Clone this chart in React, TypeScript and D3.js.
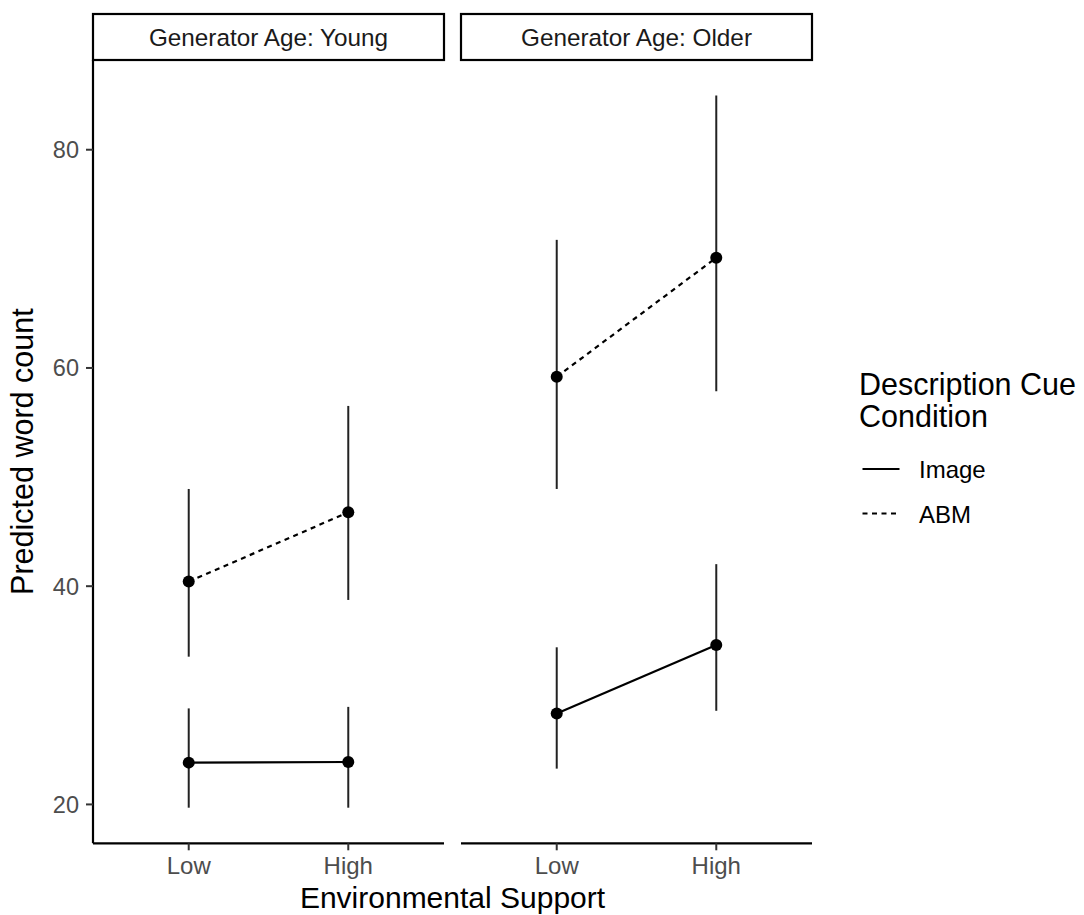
import React from "react";
import * as d3 from "d3";

const panels = ["Young", "Older"];
const supportLevels = ["Low", "High"];
const conditions = ["Image", "ABM"];
const yTicks = [20, 40, 60, 80];

// estimates per panel, condition, support level
const youngImage = { est: [23.83, 23.89], lo: [19.7, 19.7], hi: [28.8, 28.94] };
const youngABM = { est: [40.42, 46.77], lo: [33.54, 38.74], hi: [48.91, 56.52] };
const olderImage = { est: [28.33, 34.62], lo: [23.28, 28.58], hi: [34.4, 42.02] };
const olderABM = { est: [59.19, 70.1], lo: [48.91, 57.87], hi: [71.74, 84.96] };

const series = [
  { panel: "Young", cond: "Image", ...youngImage },
  { panel: "Young", cond: "ABM", ...youngABM },
  { panel: "Older", cond: "Image", ...olderImage },
  { panel: "Older", cond: "ABM", ...olderABM },
];

const FONT = "'Liberation Sans', Arial, Helvetica, sans-serif";
const W = 1084;
const H = 915;
const panelW = 351;
const panelGap = 17;
const left0 = 93;
const top = 60;
const bottom = 843.3;
const stripTop = 14;
const dashes = "5,4.5";

export default function App() {
  const allVals = series.flatMap((s) => [...s.lo, ...s.hi]);
  const [mn, mx] = d3.extent(allVals) as [number, number];
  const pad = (mx - mn) * 0.05;
  const y = d3.scaleLinear().domain([mn - pad, mx + pad]).range([bottom, top]);

  const line = d3
    .line<[number, number]>()
    .x((d) => d[0])
    .y((d) => d[1]);

  return (
    <svg width={W} height={H} style={{ position: "absolute", left: 0, top: 0, background: "#fff" }} fontFamily={FONT}>
      <rect x={0} y={0} width={W} height={H} fill="#fff" />
      {panels.map((p, pi) => {
        const x0 = left0 + pi * (panelW + panelGap);
        const x = d3.scalePoint<string>().domain(supportLevels).range([x0, x0 + panelW]).padding(0.6);
        const ps = series.filter((s) => s.panel === p);
        return (
          <g key={p}>
            {/* strip */}
            <rect x={x0} y={stripTop} width={panelW} height={top - stripTop} fill="#fff" stroke="#000" strokeWidth={2.2} />
            <text x={x0 + panelW / 2} y={46} textAnchor="middle" fontSize={24.3} fill="#1a1a1a">
              {`Generator Age: ${p}`}
            </text>
            {/* x axis */}
            <line x1={x0} x2={x0 + panelW} y1={bottom} y2={bottom} stroke="#000" strokeWidth={2.2} />
            {supportLevels.map((l) => (
              <g key={l}>
                <line x1={x(l)} x2={x(l)} y1={bottom} y2={bottom + 7} stroke="#333" strokeWidth={2} />
                <text x={x(l)} y={874} textAnchor="middle" fontSize={24} fill="#4d4d4d">
                  {l}
                </text>
              </g>
            ))}
            {/* y axis on first panel */}
            {pi === 0 && (
              <g>
                <line x1={x0} x2={x0} y1={top} y2={bottom} stroke="#000" strokeWidth={2.2} />
                {yTicks.map((t) => (
                  <g key={t}>
                    <line x1={x0 - 7} x2={x0} y1={y(t)} y2={y(t)} stroke="#333" strokeWidth={2} />
                    <text x={x0 - 14} y={y(t)} dy="0.36em" textAnchor="end" fontSize={23.5} fill="#4d4d4d">
                      {t}
                    </text>
                  </g>
                ))}
              </g>
            )}
            {/* error bars */}
            {ps.map((s) =>
              supportLevels.map((l, li) => (
                <line
                  key={s.cond + l}
                  x1={x(l)}
                  x2={x(l)}
                  y1={y(s.lo[li])}
                  y2={y(s.hi[li])}
                  stroke="#222"
                  strokeWidth={2}
                />
              ))
            )}
            {/* lines */}
            {ps.map((s) => (
              <path
                key={s.cond}
                d={line(supportLevels.map((l, li) => [x(l) as number, y(s.est[li])]))!}
                fill="none"
                stroke="#000"
                strokeWidth={2.2}
                strokeDasharray={s.cond === "ABM" ? dashes : undefined}
              />
            ))}
            {/* points */}
            {ps.map((s) =>
              supportLevels.map((l, li) => (
                <circle key={s.cond + l + "p"} cx={x(l)} cy={y(s.est[li])} r={6} fill="#000" />
              ))
            )}
          </g>
        );
      })}
      {/* axis titles */}
      <text x={left0 + panelW + panelGap / 2} y={908} textAnchor="middle" fontSize={30} fill="#000">
        Environmental Support
      </text>
      <text
        transform={`translate(33, ${(top + bottom) / 2}) rotate(-90)`}
        textAnchor="middle"
        fontSize={30.5}
        fill="#000"
      >
        Predicted word count
      </text>
      {/* legend */}
      <text x={859} y={395} fontSize={30.5} fill="#000">
        Description Cue
      </text>
      <text x={859} y={427} fontSize={30.5} fill="#000">
        Condition
      </text>
      {conditions.map((c, i) => (
        <g key={c}>
          <line
            x1={862.5}
            x2={899.5}
            y1={469 + i * 44.5}
            y2={469 + i * 44.5}
            stroke="#000"
            strokeWidth={2.2}
            strokeDasharray={c === "ABM" ? dashes : undefined}
          />
          <text x={919} y={478 + i * 44.5} fontSize={24} fill="#000">
            {c}
          </text>
        </g>
      ))}
    </svg>
  );
}
